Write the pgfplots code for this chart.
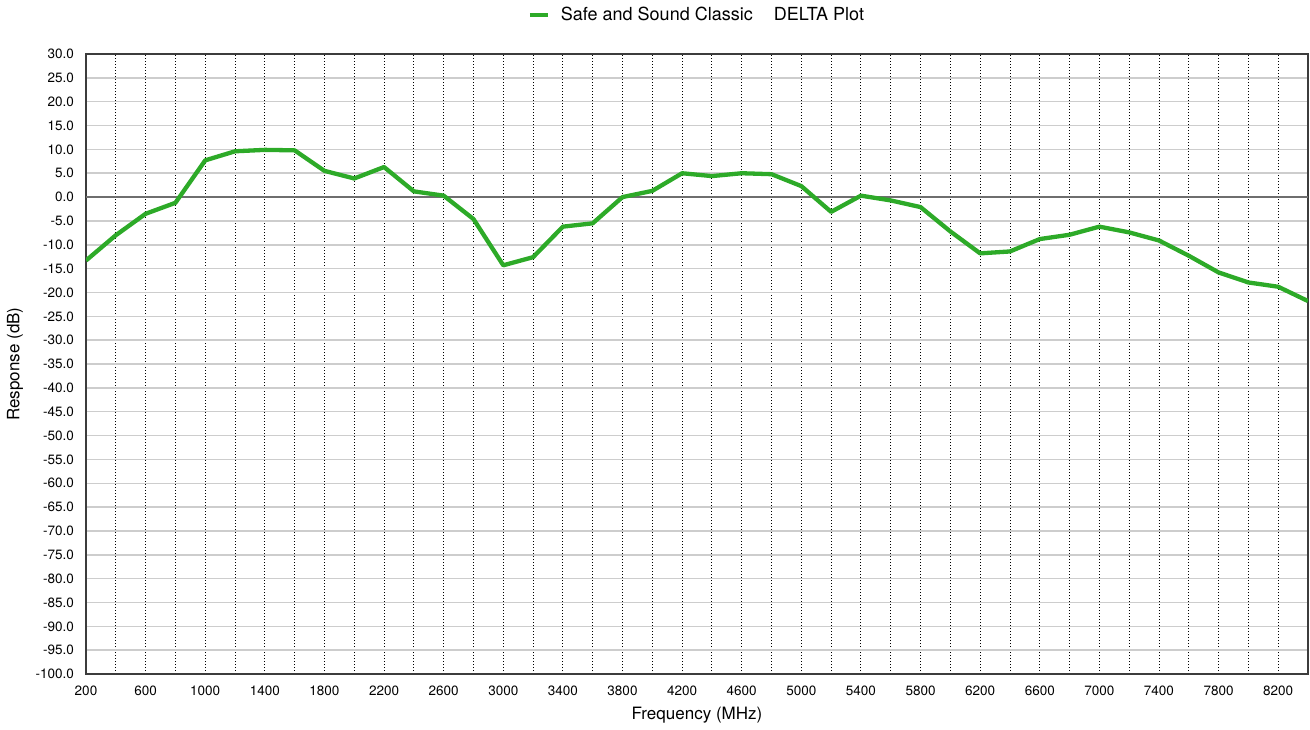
\documentclass[border=0pt]{standalone}
\usepackage{pgfplots}
\pgfplotsset{compat=1.18}
\usepackage{fontspec}
\setmainfont{TeX Gyre Heros}
\definecolor{lineGreen}{RGB}{45,170,40}
\definecolor{gridGray}{RGB}{205,205,205}
\definecolor{zeroGray}{RGB}{110,110,110}
\definecolor{frameGray}{RGB}{60,60,60}
\begin{document}
\begin{tikzpicture}
\begin{axis}[
    name=ax,
    scale only axis,
    width=1222pt, height=620pt,
    xmin=200, xmax=8400,
    ymin=-100, ymax=30,
    xtick={200,400,...,8400},
    xticklabels={200,,600,,1000,,1400,,1800,,2200,,2600,,3000,,3400,,3800,,4200,,4600,,5000,,5400,,5800,,6200,,6600,,7000,,7400,,7800,,8200,},
    ytick={-100,-95,...,30},
    yticklabel style={/pgf/number format/fixed, /pgf/number format/fixed zerofill, /pgf/number format/precision=1},
    /pgf/number format/assume math mode=true,
    tick label style={font=\fontsize{13.5}{15}\selectfont, inner sep=0pt},
    xticklabel style={yshift=-12pt},
    yticklabel style={xshift=-12pt},
    major tick length=0pt,
    xmajorgrids, ymajorgrids,
    x grid style={black, line width=0.9pt, dash pattern=on 1pt off 2pt},
    y grid style={gridGray, line width=1.5pt},
    axis line style={frameGray, line width=1.6pt},
    xlabel={Frequency (MHz)},
    ylabel={Response (dB)},
    label style={font=\fontsize{17}{19}\selectfont},
    xlabel style={at={(axis description cs:0.5,-0.066)}, anchor=center},
    ylabel style={at={(axis description cs:-0.0581,0.5)}, anchor=center},
    legend style={at={(0.5,1.063)}, anchor=center, draw=none, fill=none,
        font=\fontsize{18}{20}\selectfont, inner sep=0pt},
    legend image code/.code={\draw[#1, line width=4pt] (0pt,0pt) -- (18pt,0pt);},
]
\draw[zeroGray, line width=2pt] (axis cs:200,0) -- (axis cs:8400,0);
\addplot[lineGreen, line width=4.3pt, line join=round] coordinates {
(200,-13.3) (400,-8.0) (600,-3.5) (800,-1.2) (1000,7.7) (1200,9.6)
(1400,9.9) (1600,9.8) (1800,5.5) (2000,3.9) (2200,6.3) (2400,1.2)
(2600,0.3) (2800,-4.6) (3000,-14.3) (3200,-12.6) (3400,-6.2) (3600,-5.5)
(3800,0.0) (4000,1.3) (4200,5.0) (4400,4.4) (4600,5.0) (4800,4.8)
(5000,2.3) (5200,-3.1) (5400,0.3) (5600,-0.7) (5800,-2.1) (6000,-7.2)
(6200,-11.8) (6400,-11.4) (6600,-8.8) (6800,-7.9) (7000,-6.2) (7200,-7.4)
(7400,-9.1) (7600,-12.3) (7800,-15.8) (8000,-17.9) (8200,-18.8) (8400,-21.8)
};
\addlegendentry{\hspace{9pt}Safe and Sound Classic\hspace{21pt}DELTA Plot}
\end{axis}
\pgfresetboundingbox
\path[use as bounding box] ([xshift=-86pt,yshift=-55pt]ax.south west) rectangle ([xshift=2pt,yshift=54pt]ax.north east);
\end{tikzpicture}
\end{document}
